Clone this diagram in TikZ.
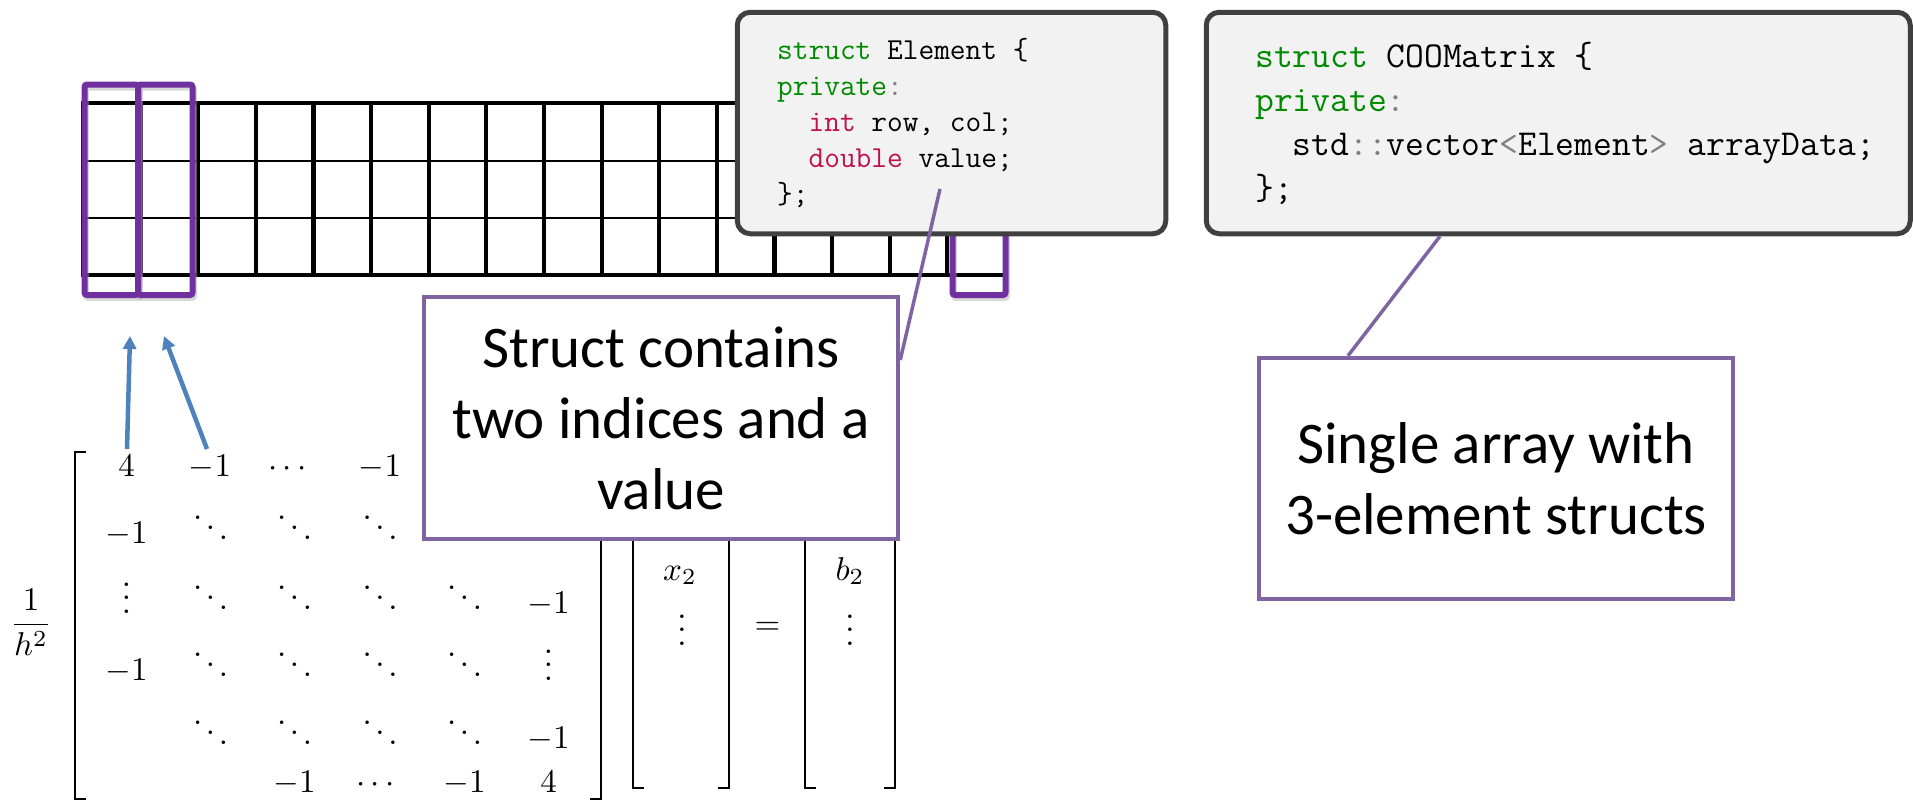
\documentclass[tikz,border=0pt]{standalone}
\usepackage{amsmath}
\usepackage{graphicx}
\usepackage{fontspec}
\newfontfamily\calibrifont{Carlito}
\usetikzlibrary{arrows.meta}
\definecolor{gridpurple}{HTML}{7030A0}
\definecolor{callpurple}{HTML}{8064A2}
\definecolor{arrowblue}{HTML}{4F81BD}
\definecolor{codefill}{HTML}{F2F2F2}
\definecolor{codeborder}{HTML}{404040}
\definecolor{kwgreen}{HTML}{008A00}
\definecolor{kwred}{HTML}{C0104E}
\definecolor{opgray}{HTML}{808080}
\newcommand\mth[1]{\scalebox{3.3}{$#1$}}
\tikzset{
  gridv/.style={line width=4.2pt, black},
  gridouter/.style={line width=4.8pt, black},
  gridinner/.style={line width=2.4pt, black},
  pbox/.style={draw=gridpurple, line width=6pt, rounded corners=2.5pt},
  pshadow/.style={draw=black!35, opacity=0.45, line width=6pt, rounded corners=2.5pt},
  codebox/.style={draw=codeborder, fill=codefill, line width=5pt, rounded corners=13pt, inner sep=0pt},
  codeA/.style={font=\fontsize{30.5}{36}\selectfont\ttfamily, anchor=base west, inner sep=0pt},
  codeB/.style={font=\fontsize{36.5}{44}\selectfont\ttfamily, anchor=base west, inner sep=0pt},
  callout/.style={draw=callpurple, fill=white, line width=4.5pt, inner sep=0pt, align=center,
    font=\calibrifont\fontsize{59}{71}\selectfont},
  calline/.style={draw=callpurple, line width=3.5pt},
  barrow/.style={draw=arrowblue, line width=4.5pt, -{Triangle[length=13pt,width=13pt]}},
  mnode/.style={anchor=base, inner sep=0pt},
  brk/.style={line width=2.4pt, black}
}
\begin{document}
\begin{tikzpicture}[x=1pt,y=-1pt]
\useasboundingbox (0,0) rectangle (1913,801);
% ---------- grid ----------
\foreach \i in {0,...,16} {
  \draw[gridv] ({83+57.625*\i},103) -- ({83+57.625*\i},275);
}
\draw[gridouter] (81,103) -- (1007,103);
\draw[gridouter] (81,275) -- (1007,275);
\draw[gridinner] (83,161) -- (1005,161);
\draw[gridinner] (83,218) -- (1005,218);
% ---------- purple highlight rectangles ----------
\draw[pshadow] (86,87.5) rectangle (139.5,298);
\draw[pshadow] (139.5,87.5) rectangle (194,298);
\draw[pshadow] (954,87.5) rectangle (1007,298);
\draw[pbox] (84.5,84.5) rectangle (138,295);
\draw[pbox] (138,84.5) rectangle (192.5,295);
\draw[pbox] (952.5,84.5) rectangle (1005.5,295);
% ---------- code boxes ----------
\node[codebox, minimum width=428.5pt, minimum height=221.5pt] (elembox) at (951.5,123) {};
\node[codeA] (e1) at (777,59) {\textcolor{kwgreen}{struct} Element \{};
\node[codeA] (e2) at (777,95) {\textcolor{kwgreen}{private}\textcolor{opgray}{:}};
\node[codeA] (e3) at (777,131) {\hphantom{xx}\textcolor{kwred}{int} row, col;};
\node[codeA] (e4) at (777,167) {\hphantom{xx}\textcolor{kwred}{double} value;};
\node[codeA] (e5) at (777,203) {\};};
\node[codebox, minimum width=704pt, minimum height=221.5pt] (coobox) at (1558.25,123) {};
\node[codeB] (c1) at (1255,67) {\textcolor{kwgreen}{struct} COOMatrix \{};
\node[codeB] (c2) at (1255,111) {\textcolor{kwgreen}{private}\textcolor{opgray}{:}};
\node[codeB] (c3) at (1255,155) {\hphantom{xx}std\textcolor{opgray}{::}vector\textcolor{opgray}{<}Element\textcolor{opgray}{>} arrayData;};
\node[codeB] (c4) at (1255,199) {\};};
% ---------- matrix equation ----------
\node[mnode] (frac) at (31,633) {\mth{\dfrac{1}{h^2}}};
\draw[brk] (86,452) -- (75,452) -- (75,799) -- (86,799);
\draw[brk] (590,452) -- (601,452) -- (601,799) -- (590,799);
% row 1
\node[mnode] (m11) at (126.5,476) {\mth{4}};
\node[mnode] (m12) at (210,476) {\mth{-1}};
\node[mnode] (m13) at (290,476) {\mth{\cdots}};
\node[mnode] (m14) at (380,476) {\mth{-1}};
% row 2
\node[mnode] (m21) at (126.5,543) {\mth{-1}};
\node[mnode] (m22) at (210.5,543) {\mth{\ddots}};
\node[mnode] (m23) at (294.5,543) {\mth{\ddots}};
\node[mnode] (m24) at (380,543) {\mth{\ddots}};
% row 3
\node[mnode] (m31) at (126.5,613) {\mth{\vdots}};
\node[mnode] (m32) at (210.5,613) {\mth{\ddots}};
\node[mnode] (m33) at (294.5,613) {\mth{\ddots}};
\node[mnode] (m34) at (380,613) {\mth{\ddots}};
\node[mnode] (m35) at (464.5,613) {\mth{\ddots}};
\node[mnode] (m36) at (548.5,613) {\mth{-1}};
% row 4
\node[mnode] (m41) at (126.5,680) {\mth{-1}};
\node[mnode] (m42) at (210.5,680) {\mth{\ddots}};
\node[mnode] (m43) at (294.5,680) {\mth{\ddots}};
\node[mnode] (m44) at (380,680) {\mth{\ddots}};
\node[mnode] (m45) at (464.5,680) {\mth{\ddots}};
\node[mnode] (m46) at (548.5,680) {\mth{\vdots}};
% row 5
\node[mnode] (m52) at (210.5,748) {\mth{\ddots}};
\node[mnode] (m53) at (294.5,748) {\mth{\ddots}};
\node[mnode] (m54) at (380,748) {\mth{\ddots}};
\node[mnode] (m55) at (464.5,748) {\mth{\ddots}};
\node[mnode] (m56) at (548.5,748) {\mth{-1}};
% row 6
\node[mnode] (m63) at (294.5,792) {\mth{-1}};
\node[mnode] (m64) at (378,792) {\mth{\cdots}};
\node[mnode] (m65) at (464.5,792) {\mth{-1}};
\node[mnode] (m66) at (548.5,792) {\mth{4}};
% vector x
\draw[brk] (644,470) -- (633,470) -- (633,788) -- (644,788);
\draw[brk] (718,470) -- (729,470) -- (729,788) -- (718,788);
\node[mnode] (x2) at (680,580) {\mth{x_2}};
\node[mnode] (xd) at (682,645) {\mth{\vdots}};
\node[mnode] (eq) at (767.5,634) {\mth{=}};
% vector b
\draw[brk] (816,470) -- (805,470) -- (805,788) -- (816,788);
\draw[brk] (884,470) -- (895,470) -- (895,788) -- (884,788);
\node[mnode] (b2) at (850,580) {\mth{b_2}};
\node[mnode] (bd) at (850,645) {\mth{\vdots}};
% ---------- blue arrows ----------
\coordinate (a1s) at (127,449);
\coordinate (a1e) at (130,336);
\coordinate (a2s) at (207,449);
\coordinate (a2e) at (164,336);
\draw[barrow] (a1s) -- (a1e);
\draw[barrow] (a2s) -- (a2e);
% ---------- callouts ----------
\node[callout, minimum width=474pt, minimum height=242pt] (note1) at (661,418)
  {Struct contains\\two indices and a\\value};
\node[callout, minimum width=474pt, minimum height=241pt] (note2) at (1496,478.5)
  {Single array with\\3-element structs};
\coordinate (n1tip) at (940,189);
\draw[calline] (note1.east |- 0,360) -- (n1tip);
\draw[calline] (note2.north -| 1348,0) -- (coobox.south -| 1440,0);
\end{tikzpicture}
\end{document}
